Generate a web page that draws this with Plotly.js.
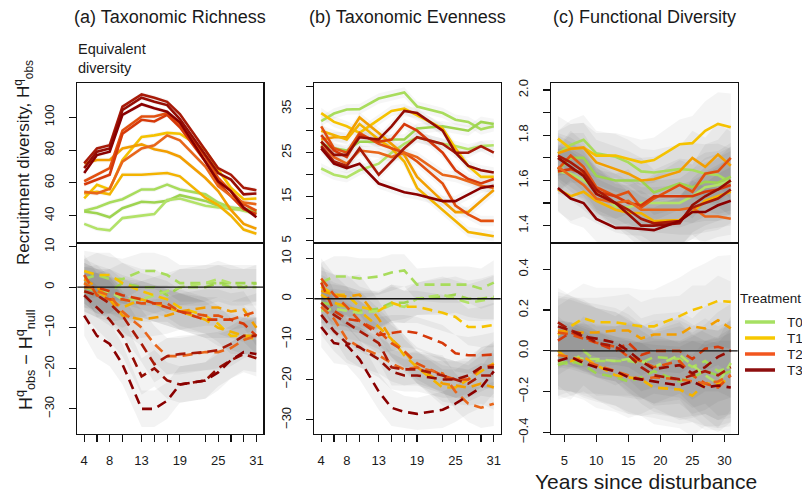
<!DOCTYPE html>
<html><head><meta charset="utf-8">
<script src="https://cdn.plot.ly/plotly-3.0.1.min.js"></script>
<style>html,body{margin:0;padding:0;background:#fff}#plot{width:802px;height:496px}</style>
</head><body><div id="plot"></div>
<script>
const years = [4,6,8,10,13,15,17,19,23,25,27,29,31];
const treatments = ['T0','T1','T2','T3'];

// (a) Taxonomic richness: observed (3 plots per treatment)
const richObsT0 = [[43,45,48,50,56,56,59,56,53,48,45,44,42],[42.5,41.5,39,44.5,48.5,48,49,52.5,49,46,44,44,43],[35,32,31,38.5,40,41,49.5,50.5,46,45,45,43,41]];
const richObsT1 = [[50.6,58.8,56,74,88,89,90.5,90,80,68,57,50,50.5],[72,74,74,81,83.5,80.5,79,76,63,55,43.5,35,32],[53.5,54.5,53,65,65,65.5,66,64,51,46.5,40,31.5,29]];
const richObsT2 = [[61,65,69,92,100.5,100.5,102.5,96,76,63,55,47,43],[59,62,65,90,98.5,97.5,101.5,94,73,60,52,44,41],[54.5,53.5,56.5,73,81,83,89,86,70,58,52,48,47]];
const richObsT3 = [[72,81,83,106.5,114,112,109.5,102,80,69,65,57,55.5],[69,79,81,104.5,112,109.5,107.5,99,77,66,62,53,53.5],[66,77,79,101.5,108,105.5,103.5,97,73,61,55,45,39]];
// (a) observed minus null
const richDiffT0 = [[2,3,2,2,4,4,3,1,1,1,0,0,1],[0,-1,-1,1,0,0,-2,0,0,1,1,1,1],[-1,-2,-1,-3,-3,-2,-1,0,1,2,1,0,0]];
const richDiffT1 = [[4,3,3,1,-1,-2,-3,-5,-7,-9,-12,-12,-13],[2,0,-3,-7,-8,-7.5,-7,-6,-5,-5,-6,-5.5,-10],[1,-1,-3,-5,-3,-4,-5,-6,-8,-10,-11,-12,-12]];
const richDiffT2 = [[3,-2,-3,-3,-4,-4,-4,-6,-7,-7,-8,-7,-6],[0,0,-1,-2,-3,-4,-5,-6,-8,-8,-8,-9,-12],[1,-1,-2,-6,-10,-14,-17,-17,-16,-16,-15,-13,-12]];
const richDiffT3 = [[-1,-2,-4,-7,-14,-19,-17,-16.5,-16,-15.5,-14,-12,-12],[-2,-5,-8,-12,-22,-20,-23,-24,-23,-20,-18,-16.5,-17.5],[-7,-12,-14,-19,-30,-30,-28,-24,-23,-21,-18,-16,-16.5]];

// (b) Taxonomic evenness
const eveObsT0 = [[32.2,33.9,34.8,34.9,37.3,38,38.7,35.5,34,32.5,32,30.3,31],[27,26,25.5,27.5,27.5,28,28,30.5,31,30.5,30,32,31.5],[21.4,20,19.4,21,22.5,25,27,28.5,27,26.5,25.8,26.5,26.7]];
const eveObsT1 = [[34,32,31,29.5,32.5,34.5,35,33.5,30.5,26,22,19.5,19.5],[28,28.5,28.5,33,29.5,27,24.5,19.5,14,11.5,11.5,14,16.5],[30,29,28,31.5,28,26,23,17,12,9.5,7,6.5,6]];
const eveObsT2 = [[31,26,25,29.5,27,26,25,23,18,13,11,9.5,9.5],[29,25.5,24,29,27.5,28,31.5,30,25,21,19,18,19],[27.5,24,22.5,25.5,25,24,25,24,20,19.5,18.5,17.5,17]];
const eveObsT3 = [[26.5,23,22,26,20,23,26,28.5,27,25,25,26.5,25],[27.5,24.5,24.5,28.5,28,31,34.5,34,30,25,22,21,20.5],[26,22.5,21.5,22.5,18,17,16,15.5,14,14,15.5,17,17.5]];
const eveDiffT0 = [[4,5.5,5.5,5,5.5,6.5,7,3.5,3.5,3.5,3.5,2.5,4],[-1,-1.5,-2,-3,-2.5,-1,-1,0,0.5,1,0,0,0.5],[-3,-2.5,-3,-3.5,-3,-1.5,-2,0,1,0,-1,-0.5,0.2]];
const eveDiffT1 = [[3,1,1,-2,-3,-1,-2,-2,-3.5,-4.5,-7,-7,-6.5],[2,1,0.5,1,-5,-10,-13,-17,-21,-21.5,-22,-21,-22],[1,-1,-2,-3,-7,-10,-14,-17,-22,-22,-20,-18,-16]];
const eveDiffT2 = [[5,1,-2,-5.5,-8,-11,-13,-16,-19,-20,-20,-17,-16.5],[4,-3,-5,-5.5,-9,-8.5,-8,-8.5,-11,-13.5,-14,-14,-13.8],[-2,-5,-10,-12,-14,-16,-17.5,-17,-18.5,-23,-26,-27,-26]];
const eveDiffT3 = [[-1,-4,-6,-8,-11,-17,-17.5,-17.5,-19,-20,-21,-19,-19],[-4,-8,-11,-12,-15,-18,-19,-19,-20,-20,-19,-17,-17],[-7,-11,-11.5,-15,-23,-27,-28,-28.5,-27.5,-26,-24,-22,-18]];

// (c) Functional diversity
const funObsT0 = [[1.72,1.757,1.78,1.72,1.705,1.68,1.64,1.635,1.65,1.646,1.63,1.624,1.59],[1.646,1.70,1.70,1.62,1.60,1.60,1.60,1.547,1.587,1.57,1.594,1.59,1.617],[1.64,1.63,1.60,1.56,1.484,1.48,1.50,1.50,1.50,1.53,1.57,1.58,1.60]];
const funObsT1 = [[1.785,1.74,1.745,1.71,1.71,1.695,1.68,1.69,1.76,1.765,1.82,1.85,1.835],[1.72,1.74,1.745,1.68,1.65,1.63,1.60,1.605,1.64,1.70,1.66,1.715,1.665],[1.56,1.53,1.55,1.51,1.47,1.457,1.455,1.42,1.425,1.46,1.51,1.53,1.55]];
const funObsT2 = [[1.65,1.71,1.66,1.57,1.53,1.55,1.48,1.52,1.58,1.55,1.63,1.64,1.70],[1.64,1.65,1.63,1.55,1.53,1.50,1.49,1.53,1.53,1.53,1.55,1.56,1.58],[1.66,1.62,1.58,1.52,1.50,1.51,1.47,1.47,1.47,1.48,1.44,1.44,1.43]];
const funObsT3 = [[1.71,1.68,1.64,1.56,1.50,1.47,1.43,1.41,1.42,1.48,1.50,1.52,1.56],[1.70,1.66,1.62,1.54,1.50,1.45,1.40,1.40,1.41,1.49,1.53,1.56,1.60],[1.567,1.52,1.50,1.43,1.39,1.39,1.385,1.38,1.42,1.46,1.46,1.49,1.51]];
const funDiffT0 = [[-0.05,-0.07,0.0,-0.05,-0.05,-0.05,-0.06,-0.03,-0.04,-0.08,-0.05,-0.10,-0.08],[-0.07,-0.05,-0.07,-0.11,-0.13,-0.15,-0.13,-0.10,-0.15,-0.13,-0.10,-0.12,-0.10],[-0.02,-0.03,-0.04,-0.04,-0.05,-0.04,-0.05,-0.08,-0.02,-0.07,-0.12,-0.16,-0.06]];
const funDiffT1 = [[0.08,0.12,0.16,0.14,0.14,0.13,0.12,0.12,0.17,0.20,0.22,0.245,0.24],[0.10,0.09,0.09,0.09,0.10,0.10,0.06,0.08,0.08,0.12,0.11,0.15,0.11],[0.0,-0.05,-0.03,-0.07,-0.12,-0.13,-0.14,-0.18,-0.19,-0.22,-0.16,-0.16,-0.14]];
const funDiffT2 = [[0.09,0.08,0.06,0.04,0.02,-0.03,-0.05,-0.08,-0.05,-0.12,-0.16,-0.18,-0.12],[0.05,0.09,0.07,0.04,0.0,0.04,-0.02,0.0,0.0,-0.04,0.01,0.02,0.0],[-0.02,-0.03,-0.05,-0.07,-0.10,-0.12,-0.14,-0.13,-0.14,-0.15,-0.16,-0.15,-0.12]];
const funDiffT3 = [[0.14,0.10,0.08,0.04,0.02,-0.02,-0.08,-0.12,-0.14,-0.12,-0.10,-0.12,-0.08],[0.12,0.10,0.07,0.06,0.04,0.0,-0.05,-0.09,-0.07,-0.11,-0.08,-0.03,0.0],[-0.05,-0.03,-0.06,-0.08,-0.10,-0.13,-0.14,-0.15,-0.17,-0.15,-0.18,-0.17,-0.18]];

// null-model envelope half-widths (grey ribbons), read per survey year
const richObsHW = [1.5,1.5,1.5,1.5,1.5,1.5,1.5,1.5,1.5,1.5,1.5,1.5,1.5];
const eveObsHW = [1.2,1.2,1.2,1.2,1.2,1.2,1.2,1.2,1.2,1.2,1.2,1.2,1.2];
const funObsHW = [0.10,0.11,0.11,0.10,0.10,0.10,0.10,0.10,0.11,0.12,0.13,0.14,0.15];
const richDiffHW = [5,5.5,5.5,5,4.5,4.5,4.5,4.5,4.5,4.5,4.5,4.5,4.5];
const eveDiffHW = [5,5,5,5,4.5,4.5,4,4,4.5,4.5,4.5,5,5.5];
const funDiffHW = [0.17,0.17,0.17,0.17,0.17,0.18,0.18,0.18,0.19,0.20,0.21,0.22,0.23];

const lineColors = [['#A8DC5C','#9ED450','#B2E268'],['#F5C200','#F29E00','#F3B300'],['#E2500F','#D6390A','#E8661A'],['#A81A08','#950D04','#8A0000']];
const legendColors = ['#A6E062','#F7C800','#F2561E','#8E0E0E'];

const panels = [
  {data:[richObsT0,richObsT1,richObsT2,richObsT3], hw:richObsHW, xa:'x', ya:'y', dash:false, fill:'rgba(0,0,0,0.035)'},
  {data:[eveObsT0,eveObsT1,eveObsT2,eveObsT3], hw:eveObsHW, xa:'x2', ya:'y2', dash:false, fill:'rgba(0,0,0,0.035)'},
  {data:[funObsT0,funObsT1,funObsT2,funObsT3], hw:funObsHW, xa:'x3', ya:'y3', dash:false, fill:'rgba(0,0,0,0.042)'},
  {data:[richDiffT0,richDiffT1,richDiffT2,richDiffT3], hw:richDiffHW, xa:'x4', ya:'y4', dash:true, fill:'rgba(0,0,0,0.048)'},
  {data:[eveDiffT0,eveDiffT1,eveDiffT2,eveDiffT3], hw:eveDiffHW, xa:'x5', ya:'y5', dash:true, fill:'rgba(0,0,0,0.048)'},
  {data:[funDiffT0,funDiffT1,funDiffT2,funDiffT3], hw:funDiffHW, xa:'x6', ya:'y6', dash:true, fill:'rgba(0,0,0,0.038)'}
];

const traces = [];
panels.forEach(p => {
  p.data.forEach(group => group.forEach(vals => {
    const up = vals.map((v,i) => v + p.hw[i]);
    const lo = vals.map((v,i) => v - p.hw[i]);
    traces.push({x: years.concat(years.slice().reverse()), y: up.concat(lo.slice().reverse()),
      xaxis:p.xa, yaxis:p.ya, type:'scatter', mode:'lines', fill:'toself', fillcolor:p.fill,
      line:{width:0, color:'rgba(0,0,0,0)'}, showlegend:false, hoverinfo:'skip'});
  }));
});
panels.forEach(p => {
  p.data.forEach((group, g) => group.forEach((vals, k) => {
    traces.push({x: years, y: vals, xaxis:p.xa, yaxis:p.ya, type:'scatter', mode:'lines',
      line:{color: lineColors[g][k], width:2.6, dash: p.dash ? '10px,6px' : 'solid'}, showlegend:false, hoverinfo:'skip'});
  }));
});

const W = 802, H = 496;
const fx = px => px / W, fy = py => 1 - py / H;
const colX = [[77.3,263.3],[314.3,500.7],[551,737.7]];
const topY = [fy(243), fy(83.3)], botY = [fy(434), fy(243)];
const tickFont = {family:'Liberation Sans, Arial, sans-serif', size:13, color:'#1a1a1a'};

function xAxis(col, showTicks, vals, texts) {
  const a = {domain:[fx(colX[col][0]), fx(colX[col][1])], range:[2.92,32.08], showgrid:false, zeroline:false,
    showline:true, mirror:true, linecolor:'#111', linewidth:1.2, tickfont:tickFont, fixedrange:true};
  if (showTicks) { Object.assign(a, {tickmode:'array', tickvals:vals, ticktext:texts, ticks:'outside', ticklen:7, tickwidth:1.2, tickcolor:'#111', ticklabelstandoff:7}); }
  else { Object.assign(a, {showticklabels:false, ticks:''}); }
  return a;
}
function yAxis(dom, range, vals, texts) {
  return {domain:dom, range:range, showgrid:false, zeroline:false, showline:true, mirror:true, linecolor:'#111', linewidth:1.2,
    tickmode:'array', tickvals:vals, ticktext:texts, ticks:'outside', ticklen:7, tickwidth:1.2, tickcolor:'#111',
    tickangle:-90, tickfont:tickFont, ticklabelstandoff:10, fixedrange:true};
}
const yrText = years.map(y => [4,8,13,19,25,31].includes(y) ? String(y) : '');

const ann = (text, px, py, size, extra) => Object.assign({text:text, x:fx(px), y:fy(py), xref:'paper', yref:'paper',
  xanchor:'center', yanchor:'middle', showarrow:false, font:{size:size}}, extra || {});

const annotations = [
  ann('(a) Taxonomic Richness', 170.3, 17, 18),
  ann('(b) Taxonomic Evenness', 407.5, 17, 18),
  ann('(c) Functional Diversity', 644.3, 17, 18),
  ann('Equivalent<br>diversity', 76, 59, 14.5, {xanchor:'left', align:'left'}),
  ann('Recruitment diversity, H<sup>q</sup><sub>obs</sub>', 23, 163, 17, {textangle:-90}),
  ann('H<sup>q</sup><sub>obs</sub> \u2212 H<sup>q</sup><sub>null</sub>', 25, 360, 18, {textangle:-90}),
  ann('Years since disturbance', 646, 481, 21),
  ann('Treatment', 738, 298, 13.5, {xanchor:'left'})
];
const legendRows = [322, 338, 354, 370];
const shapes = ['4','5','6'].map(n => ({type:'line', xref:'x'+n+' domain', yref:'y'+n, x0:0, x1:1, y0:0, y1:0, layer:'above', line:{color:'#111', width:1.3}}));
treatments.forEach((t, i) => {
  shapes.push({type:'line', xref:'paper', yref:'paper', x0:fx(745), x1:fx(775), y0:fy(legendRows[i]), y1:fy(legendRows[i]), line:{color:legendColors[i], width:3.5}});
  annotations.push(ann(t, 785, legendRows[i], 13.5, {xanchor:'left'}));
});

const layout = {
  width:W, height:H, margin:{l:0,r:0,t:0,b:0}, paper_bgcolor:'#fff', plot_bgcolor:'rgba(0,0,0,0)',
  font:{family:'Liberation Sans, Arial, sans-serif', color:'#1a1a1a'}, showlegend:false,
  xaxis: xAxis(0,false), yaxis: Object.assign(yAxis(topY,[23.3,120.8],[40,60,80,100],['40','60','80','100']),{anchor:'x'}),
  xaxis2: Object.assign(xAxis(1,false),{anchor:'y2'}), yaxis2: Object.assign(yAxis(topY,[4.48,40.77],[5,10,15,20,25,30,35,40],['5','','15','','25','','35','']),{anchor:'x2'}),
  xaxis3: Object.assign(xAxis(2,false),{anchor:'y3'}), yaxis3: Object.assign(yAxis(topY,[1.323,2.03],[1.4,1.5,1.6,1.7,1.8,1.9,2.0],['1.4','','1.6','','1.8','','2.0']),{anchor:'x3'}),
  xaxis4: Object.assign(xAxis(0,true,years,yrText),{anchor:'y4'}), yaxis4: Object.assign(yAxis(botY,[-36.2,10.9],[-30,-20,-10,0,10],['\u221230','\u221220','\u221210','0','10']),{anchor:'x4'}),
  xaxis5: Object.assign(xAxis(1,true,years,yrText),{anchor:'y5'}), yaxis5: Object.assign(yAxis(botY,[-33.5,13.8],[-30,-20,-10,0,10],['\u221230','\u221220','\u221210','0','10']),{anchor:'x5'}),
  xaxis6: Object.assign(xAxis(2,true,[5,10,15,20,25,30],['5','10','15','20','25','30']),{anchor:'y6'}), yaxis6: Object.assign(yAxis(botY,[-0.408,0.529],[-0.4,-0.2,0,0.2,0.4],['\u22120.4','\u22120.2','0.0','0.2','0.4']),{anchor:'x6'}),
  shapes: shapes,
  annotations: annotations
};
Plotly.newPlot('plot', traces, layout, {staticPlot:true, displayModeBar:false});
</script></body></html>
